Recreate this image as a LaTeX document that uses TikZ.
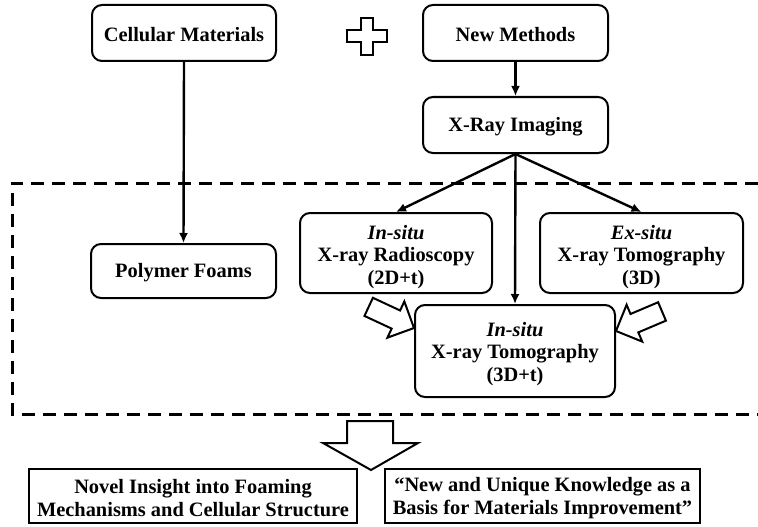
\documentclass[tikz,border=0pt]{standalone}
\usepackage{fontspec}
\setmainfont{Liberation Serif}
\usetikzlibrary{arrows.meta}
\begin{document}
\begin{tikzpicture}[x=1pt,y=-1pt,
  rbox/.style={draw, line width=2pt, rounded corners=10pt, inner sep=0pt},
  sbox/.style={draw, line width=2pt, inner sep=0pt},
  txt/.style={align=center, inner sep=0pt, font=\bfseries\fontsize{20.4}{22.8}\selectfont},
  arr/.style={line width=2.4pt, -{Latex[length=10pt,width=9pt]}},
  blockarrow/.style={draw, line width=2pt, fill=white, line join=miter},
  dashbox/.style={line width=3pt, dash pattern=on 13pt off 8pt}
]
\useasboundingbox (0,0) rectangle (758,527);
% dashed frame (right side runs off the picture)
\draw[dashbox] (758,183) -- (12,183) -- (12,414) -- (758,414);

% boxes
\node[rbox, minimum width=184pt, minimum height=56pt] (cm) at (184,33) {};
\node[rbox, minimum width=185pt, minimum height=56pt] (nm) at (515.5,33) {};
\node[rbox, minimum width=185pt, minimum height=56pt] (xr) at (515.5,125) {};
\node[rbox, minimum width=185pt, minimum height=54pt] (pf) at (183.5,271) {};
\node[rbox, minimum width=192pt, minimum height=80pt] (rad) at (396,253) {};
\node[rbox, minimum width=203pt, minimum height=80pt] (exs) at (641.5,253) {};
\node[rbox, minimum width=200pt, minimum height=92pt] (ist) at (515,351) {};
\node[sbox, minimum width=328pt, minimum height=54pt] (bl) at (193,496) {};
\node[sbox, minimum width=315pt, minimum height=54pt] (br) at (542.5,496) {};

% texts
\node[txt] (cmT) at ([yshift=-2pt]cm.center) {Cellular Materials};
\node[txt] (nmT) at ([yshift=-2pt]nm.center) {New Methods};
\node[txt] (xrT) at ([yshift=-2pt]xr.center) {X-Ray Imaging};
\node[txt] (pfT) at ([yshift=-2pt]pf.center) {Polymer Foams};
\node[txt] (radT) at ([yshift=-4pt]rad.center) {\textit{In-situ}\\X-ray Radioscopy\\(2D+t)};
\node[txt] (exsT) at ([yshift=-4pt]exs.center) {\textit{Ex-situ}\\X-ray Tomography\\(3D)};
\node[txt] (istT) at ([yshift=-3pt]ist.center) {\textit{In-situ}\\X-ray Tomography\\(3D+t)};
\node[txt] (blT) at ([yshift=-2pt]bl.center) {Novel Insight into Foaming\\Mechanisms and Cellular Structure};
\node[txt] (brT) at ([yshift=-2pt]br.center) {“New and Unique Knowledge as a\\Basis for Materials Improvement”};

% plus sign
\draw[line width=1.8pt, line join=miter] (361,18) -- (373,18) -- (373,30) -- (387,30) -- (387,42) -- (373,42)
  -- (373,55) -- (361,55) -- (361,42) -- (347,42) -- (347,30) -- (361,30) -- cycle;

% connectors
\draw[arr] (cm.south) -- (pf.north);
\draw[arr] (nm.south) -- (xr.north);
\draw[arr] (xr.south) -- (rad.north);
\draw[arr] (xr.south) -- (exs.north);
\draw[arr] (xr.south) -- (ist.north);

% block arrows
\coordinate (ltip) at (ist.west |- 0,328);
\coordinate (rtip) at (ist.east |- 0,331);
\draw[blockarrow, shift={(ltip)}, rotate=-25]
  (0,0) -- (-20,20) -- (-20,10) -- (-50,10) -- (-50,-10) -- (-20,-10) -- (-20,-20) -- cycle;
\draw[blockarrow, shift={(rtip)}, rotate=-157]
  (0,0) -- (-20,20) -- (-20,10) -- (-50,10) -- (-50,-10) -- (-20,-10) -- (-20,-20) -- cycle;
\coordinate (dtip) at (371,470);
\draw[blockarrow, shift={(dtip)}]
  (0,0) -- (-48,-27) -- (-24,-27) -- (-24,-49) -- (22,-49) -- (22,-27) -- (47,-27) -- cycle;
\end{tikzpicture}
\end{document}
